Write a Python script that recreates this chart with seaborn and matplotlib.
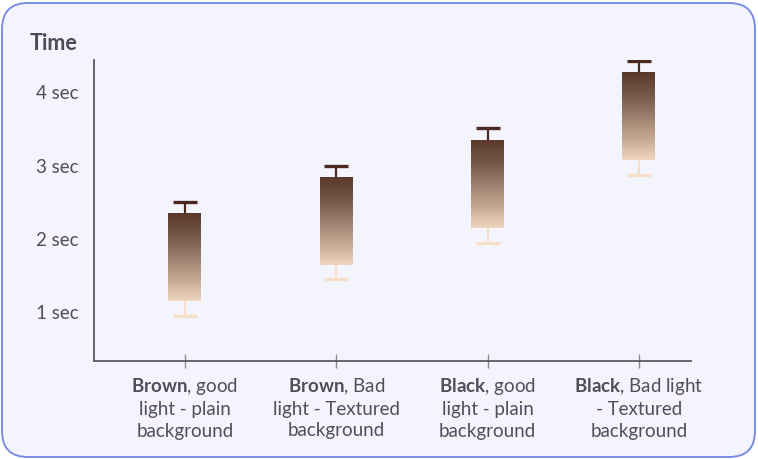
"""
Time per condition, drawn as gradient box plots.
"""

import numpy as np
import pandas as pd
import matplotlib
matplotlib.use("Agg")
import matplotlib.pyplot as plt
import matplotlib.patches as mpatches
import matplotlib.transforms as mtransforms
from matplotlib.colors import LinearSegmentedColormap
import seaborn as sns

# values (seconds)
conditions = [
    r"$\mathbf{Brown}$, good" + "\nlight - plain\nbackground",
    r"$\mathbf{Brown}$, Bad" + "\nlight - Textured\nbackground",
    r"$\mathbf{Black}$, good" + "\nlight - plain\nbackground",
    r"$\mathbf{Black}$, Bad light" + "\n- Textured\nbackground",
]
lower_whisker = [0.95, 1.45, 1.95, 2.87]
q1 = [1.16, 1.65, 2.15, 3.08]
q3 = [2.36, 2.85, 3.35, 4.28]
upper_whisker = [2.50, 3.00, 3.52, 4.43]
y_ticks = [1, 2, 3, 4]
y_tick_labels = ["1 sec", "2 sec", "3 sec", "4 sec"]

TEXT = "#4f4f5c"
DARK = "#4a2a20"
LIGHT = "#f6dfc8"

sns.set_style("white")
plt.rcParams["font.family"] = ["Lato", "DejaVu Sans"]
plt.rcParams["mathtext.fontset"] = "custom"
plt.rcParams["mathtext.rm"] = "Lato"
plt.rcParams["mathtext.bf"] = "Lato:bold"

# five points per group so that quartiles and min/max land on the read values
rows = []
for i, cond in enumerate(conditions):
    mid = (q1[i] + q3[i]) / 2
    for v in [lower_whisker[i], q1[i], mid, q3[i], upper_whisker[i]]:
        rows.append({"condition": cond, "time": v})
df = pd.DataFrame(rows)

fig = plt.figure(figsize=(7.58, 4.59), dpi=100)
fig.patch.set_facecolor("white")

# rounded card behind everything
card = mpatches.FancyBboxPatch(
    (2, 2), 753, 454,
    boxstyle="round,pad=0,rounding_size=26",
    transform=mtransforms.IdentityTransform(),
    facecolor="#f4f4fd", edgecolor="#7b8ce2", linewidth=1.4, zorder=-5,
)
fig.patches.append(card)

ax = fig.add_axes([94 / 758, 1 - 361 / 459, (691 - 94) / 758, (361 - 60) / 459])
ax.set_facecolor("none")

sns.boxplot(
    data=df, x="condition", y="time", order=conditions,
    whis=(0, 100), width=0.218, color="#8a6d5e", linewidth=1.6,
    fliersize=0, ax=ax, capwidths=0.16,
)

cmap = LinearSegmentedColormap.from_list(
    "brown_fade", ["#efd6c0", "#c4a690", "#9a7d6c", "#735547", "#583729"]
)
gradient = np.linspace(0, 1, 256).reshape(-1, 1)

for patch in list(ax.patches):
    ext = patch.get_path().get_extents()
    patch.set_facecolor("none")
    patch.set_edgecolor("none")
    img = ax.imshow(
        gradient, cmap=cmap, origin="lower", aspect="auto",
        extent=(ext.x0, ext.x1, ext.y0, ext.y1), zorder=2,
        interpolation="bilinear",
    )
    img.set_clip_path(patch)

for line in ax.lines:
    xd = np.asarray(line.get_xdata(), dtype=float)
    yd = np.asarray(line.get_ydata(), dtype=float)
    if len(xd) == 0:
        continue
    idx = int(round(xd.mean()))
    ym = yd.mean()
    horizontal = np.allclose(yd, yd[0])
    if horizontal and q1[idx] < ym < q3[idx]:
        line.set_visible(False)
        continue
    line.set_color(DARK if ym > q3[idx] - 1e-9 else LIGHT)
    line.set_solid_capstyle("butt")
    line.set_linewidth(2.4 if horizontal else 1.6)
    line.set_zorder(1)

ax.set_xlim(-0.601, 3.344)
ax.set_ylim(0.338, 4.44)
ax.set_yticks(y_ticks)
ax.set_yticklabels(y_tick_labels)
ax.set_xlabel("")
ax.set_ylabel("")

for side in ["top", "right"]:
    ax.spines[side].set_visible(False)
for side in ["left", "bottom"]:
    ax.spines[side].set_color("#5b5b66")
    ax.spines[side].set_linewidth(1.3)

ax.tick_params(axis="y", left=False, length=0, pad=11, labelsize=13.5,
               labelcolor=TEXT)
ax.tick_params(axis="x", bottom=True, direction="inout", length=10, width=1,
               color="#8a8a94", pad=6, labelsize=13.5, labelcolor=TEXT)
for lbl in ax.get_xticklabels():
    lbl.set_linespacing(1.3)

fig.text(30 / 758, 1 - 43 / 459, "Time", fontsize=15.5, fontweight="bold",
         color="#4a4a58", va="center", ha="left")

fig.savefig("out.png", dpi=100, facecolor="white")
plt.close(fig)
